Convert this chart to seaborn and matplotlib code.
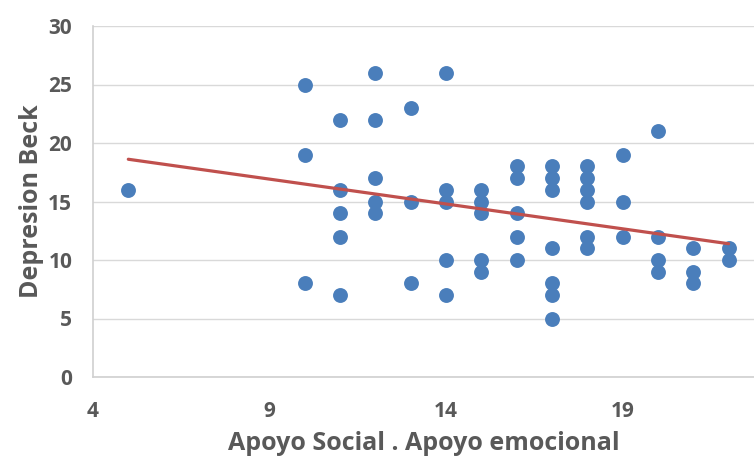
import matplotlib
matplotlib.use("Agg")
import matplotlib.pyplot as plt
import seaborn as sns
import pandas as pd

# Apoyo emocional (x) vs Depresion Beck (y)
apoyo = [5,
         10, 10, 10,
         11, 11, 11, 11, 11,
         12, 12, 12, 12, 12,
         13, 13, 13,
         14, 14, 14, 14, 14,
         15, 15, 15, 15, 15,
         16, 16, 16, 16, 16,
         17, 17, 17, 17, 17, 17, 17,
         18, 18, 18, 18, 18, 18,
         19, 19, 19,
         20, 20, 20, 20,
         21, 21, 21,
         22, 22]
depresion = [16,
             25, 19, 8,
             22, 16, 14, 12, 7,
             26, 22, 17, 15, 14,
             23, 15, 8,
             26, 16, 15, 10, 7,
             16, 15, 14, 10, 9,
             18, 17, 14, 12, 10,
             18, 17, 16, 11, 8, 7, 5,
             18, 17, 16, 15, 12, 11,
             19, 15, 12,
             21, 12, 10, 9,
             11, 9, 8,
             11, 10]

y_ticks = [0, 5, 10, 15, 20, 25, 30]
x_ticks = [4, 9, 14, 19]

df = pd.DataFrame({"apoyo": apoyo, "depresion": depresion})

sns.set_style("white")
plt.rcParams['font.family'] = ['Open Sans', 'DejaVu Sans']

fig = plt.figure(figsize=(7.54, 4.62), dpi=100)
ax = fig.add_axes([93 / 754, 85 / 462, 1 - 93 / 754, (377 - 26) / 462])

sns.regplot(data=df, x="apoyo", y="depresion", ci=None, ax=ax,
            scatter_kws=dict(s=115, color="#4a7ebb", linewidths=0, alpha=1, zorder=3),
            line_kws=dict(color="#c0504d", lw=2.3, zorder=4))

ax.set_xlim(4, 22.72)
ax.set_ylim(0, 30)
ax.set_xticks(x_ticks)
ax.set_yticks(y_ticks)
ax.yaxis.grid(True, color="#d9d9d9", lw=1)
ax.set_axisbelow(True)
for side in ["top", "right"]:
    ax.spines[side].set_visible(False)
for side in ["left", "bottom"]:
    ax.spines[side].set_color("#d0d0d0")
    ax.spines[side].set_linewidth(1.2)
ax.tick_params(length=0, labelsize=15, labelcolor="#595959")
ax.tick_params(axis="y", pad=15)
ax.tick_params(axis="x", pad=17)
for lab in ax.get_xticklabels() + ax.get_yticklabels():
    lab.set_fontweight("bold")

ax.set_xlabel("Apoyo Social . Apoyo emocional", fontsize=18, fontweight="bold",
              color="#595959", labelpad=7)
ax.set_ylabel("Depresion Beck", fontsize=18, fontweight="bold", color="#595959",
              labelpad=3)

fig.savefig("out.png", dpi=100)
